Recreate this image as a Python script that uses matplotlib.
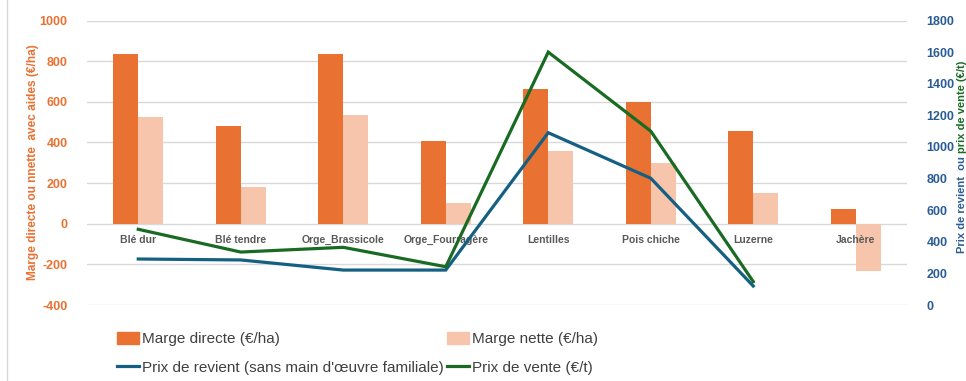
import numpy as np
import matplotlib.pyplot as plt
from matplotlib.lines import Line2D
from matplotlib.patches import Patch

plt.rcParams['font.family'] = ['Liberation Sans', 'DejaVu Sans']
plt.rcParams['axes.unicode_minus'] = False

cultures = ['Blé dur', 'Blé tendre', 'Orge_Brassicole', 'Orge_Fourragère',
            'Lentilles', 'Pois chiche', 'Luzerne', 'Jachère']
marge_directe = [833, 483, 836, 406, 665, 601, 454, 70]
marge_nette = [526, 180, 533, 100, 357, 297, 149, -233]
prix_revient = [291, 285, 221, 221, 1090, 802, 120, np.nan]
prix_vente = [479, 335, 365, 242, 1600, 1100, 148, np.nan]

orange = '#E97132'
orange_clair = '#F6C5AC'
bleu = '#156082'
bleu_txt = '#2A5C94'
vert = '#196B24'
gris = '#595959'

W, H = 966, 381
fig = plt.figure(figsize=(W / 100, H / 100), dpi=100)
ax = fig.add_axes([87 / W, 1 - 305 / H, 820 / W, 284.5 / H])
ax2 = ax.twinx()

x = np.arange(len(cultures))
w = 0.244
ax.bar(x - w / 2, marge_directe, w, color=orange, zorder=2)
ax.bar(x + w / 2, marge_nette, w, color=orange_clair, zorder=2)

ax.set_xlim(-0.5, len(cultures) - 0.5)
ax.set_ylim(-400, 1000)
ax.set_yticks(range(-400, 1001, 200))
ax.set_xticks([])
ax.grid(axis='y', color='#D9D9D9', lw=1)
ax.set_axisbelow(True)
ax.tick_params(axis='y', length=0, pad=14, labelcolor=orange, labelsize=9)
for t in ax.get_yticklabels():
    t.set_fontweight('bold')

# étiquettes de catégories collées à l'axe zéro, par-dessus les barres
for i, c in enumerate(cultures):
    ax.annotate(c, (i, 0), xytext=(0, -16), textcoords='offset pixels',
                ha='center', va='center', fontsize=7.5, fontweight='bold',
                color=gris, zorder=3)

ax2.plot(x, prix_revient, color=bleu, lw=2.3, solid_joinstyle='miter')
ax2.plot(x, prix_vente, color=vert, lw=2.3, solid_joinstyle='miter')
ax2.set_ylim(0, 1800)
ax2.set_yticks(range(0, 1801, 200))
ax2.tick_params(axis='y', length=0, pad=14, labelcolor=bleu_txt, labelsize=9)
for t in ax2.get_yticklabels():
    t.set_fontweight('bold')

for a in (ax, ax2):
    for s in a.spines.values():
        s.set_visible(False)

fig.text(33 / W, 1 - 162 / H, 'Marge directe ou nnette  avec aides (€/ha)',
         rotation=90, ha='center', va='center', color=orange,
         fontsize=8.6, fontweight='bold')

# titre de droite en deux couleurs
t1 = fig.text(962 / W, 1 - 253 / H, 'Prix de revient  ou ', rotation=90,
              ha='center', va='bottom', color=bleu_txt, fontsize=8,
              fontweight='bold')
fig.canvas.draw()
bb = t1.get_window_extent()
fig.text(962 / W, bb.y1 / H, 'prix de vente (€/t)', rotation=90,
         ha='center', va='bottom', color=vert, fontsize=8, fontweight='bold')

fig.add_artist(Line2D([7 / W, 7 / W], [0, 1], color='#D9D9D9', lw=1))

handles = [Patch(color=orange), Line2D([], [], color=bleu, lw=2.3),
           Patch(color=orange_clair), Line2D([], [], color=vert, lw=2.3)]
labels = ['Marge directe (€/ha)',
          "Prix de revient (sans main d'œuvre familiale)",
          'Marge nette (€/ha)', 'Prix de vente (€/t)']
fig.legend(handles, labels, ncol=2, loc='upper left',
           bbox_to_anchor=(117 / W, 1 - 332 / H), frameon=False,
           fontsize=11, handlelength=1.45, handleheight=0.8,
           handletextpad=0.2, columnspacing=0.2, labelspacing=0.95,
           borderpad=0, borderaxespad=0, labelcolor='#404040')

fig.savefig('out.png', dpi=100)
